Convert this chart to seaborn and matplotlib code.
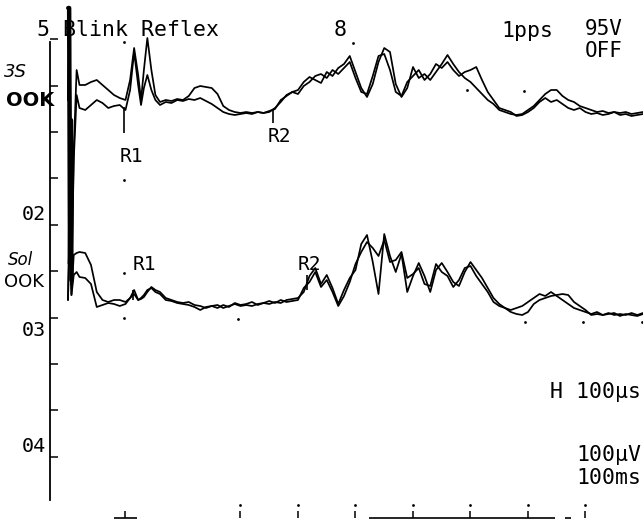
import numpy as np
import pandas as pd
import seaborn as sns
import matplotlib.pyplot as plt

# sweep time (ms) after the stimulus
t_ms = np.concatenate([[0, 0.3, 0.6, 1.0, 1.5], np.arange(2, 11),
                       [10.8, 11.5, 12.2, 12.7, 13.2, 13.8, 14.5, 15.2],
                       np.arange(16, 101)])

# channel 1 (upper), two superimposed sweeps, deflection in uV
upper_a = [0, 230, -462.5, -125, 75,
           37.5, 37.5, 45, 50, 37.5, 25, 12.5, 5, 0,
           50, 130, 62.5, 0, 75, 155, 75, 12.5,
           -5, 0, -2.5, 2.5, 0, 10, 30, 35, 32.5, 30,
           15, -15, -25, -30, -32.5, -30, -32.5, -30, -32.5, -27.5,
           -22.5, 0, 10, 20, 25, 45, 57.5, 50, 42.5, 70,
           60, 80, 90, 110, 70, 30, 7.5, 40, 95, 130,
           120, 40, 7.5, 30, 82.5, 55, 65, 50, 70, 90,
           112.5, 90, 70, 55, 45, 30, 15, 0, -10, -25,
           -30, -35, -37.5, -35, -25, -15, 0, 15, 25, 25,
           10, 0, -5, -15, -20, -25, -30, -27.5, -32.5, -30,
           -32.5, -30, -35, -32.5, -30]
upper_b = [0, 230, -462.5, -150, 12.5,
           -20, -25, -12.5, 0, -7.5, -20, -15, -12.5, -25,
           25, 120, 37.5, -12.5, 30, 62.5, 25, 0,
           -12.5, -5, -7.5, 0, -2.5, 2.5, 0, 5, -2.5, -10,
           -20, -30, -35, -37.5, -35, -32.5, -35, -30, -32.5, -30,
           -20, -5, 12.5, 20, 15, 35, 45, 60, 65, 55,
           75, 65, 80, 95, 55, 20, 15, 60, 110, 115,
           75, 20, 10, 45, 60, 75, 50, 65, 90, 80,
           95, 75, 60, 70, 75, 82.5, 50, 20, 0, -20,
           -25, -30, -40, -37.5, -30, -20, -5, 5, -5, 0,
           -10, -20, -25, -20, -30, -35, -32.5, -37.5, -35, -30,
           -37.5, -35, -40, -37.5, -35]

# channel 2 (lower)
lower_a = [0, 212.5, 12.5, 112.5, 117.5,
           120, 117.5, 87.5, 20, 0, -5, 0, 0, -5,
           5, 25, 0, 2.5, 7.5, 20, 32.5, 25,
           20, 5, 0, -5, -7.5, -5, -12.5, -15, -20, -15,
           -12.5, -20, -15, -10, -15, -12.5, -15, -10, -7.5, -10,
           -5, -7.5, 0, 2.5, 5, 20, 60, 80, 40, 62.5,
           30, -10, 25, 55, 75, 140, 162.5, 95, 15, 165,
           110, 70, 115, 20, 60, 92.5, 60, 20, 75, 92.5,
           70, 45, 35, 70, 95, 75, 55, 30, 5, -10,
           -20, -30, -35, -37.5, -30, -10, 0, 5, 10, 12.5,
           15, 12.5, -5, -15, -25, -37.5, -35, -37.5, -32.5, -37.5,
           -35, -37.5, -32.5, -37.5, -32.5]
lower_b = [0, 212.5, 12.5, 62.5, 70,
           57.5, 55, 40, -17.5, -12.5, -7.5, -10, -15, -10,
           5, 15, 0, 5, 12.5, 25, 30, 20,
           15, 0, -2.5, -7.5, -10, -12.5, -17.5, -25, -17.5, -15,
           -20, -12.5, -17.5, -7.5, -12.5, -10, -5, -12.5, -7.5, -2.5,
           -7.5, 0, -5, -2.5, 0, 30, 45, 70, 32.5, 50,
           20, -15, 10, 45, 90, 120, 145, 130, 110, 150,
           95, 100, 120, 55, 65, 80, 40, 35, 90, 70,
           60, 32.5, 50, 80, 85, 60, 40, 20, -5, -15,
           -20, -25, -20, -15, -5, 5, 15, 10, 20, 10,
           0, -10, -20, -25, -30, -35, -30, -37.5, -35, -32.5,
           -40, -35, -37.5, -40, -35]

for tr in (upper_a, upper_b, lower_a, lower_b):
    assert len(tr) == len(t_ms), len(tr)

upper_base = 1050
lower_base = 550

# stimulus artifact (thick, saturated)
artifact_t = [0.05, 0.2, 0.35, 0.5, 0.6]
artifact_v = [1280, 1280, 640, 1000, 600]

# cursor markers (ms, top uV, bottom uV)
markers = [(9.7, 1032.5, 967.5), (35.7, 1025, 992.5),
           (11.3, 575, 550), (41.6, 612.5, 575)]
marker_labels = [("R1", 9.0, 910), ("R2", 34.8, 960),
                 ("R1", 11.3, 640), ("R2", 40.0, 640)]

# grid dots
dot_t = [9.7, 9.7, 49.6, 69.4, 79.3, 9.7, 9.7, 29.6, 79.5, 89.6, 99.8,
         30, 40, 50, 60, 70, 80, 90]
dot_v = [1195, 850, 1192.5, 1075, 1072.5, 617.5, 505, 502.5, 495, 495, 495,
         37.5, 37.5, 37.5, 37.5, 37.5, 37.5, 37.5]

# bottom time marks (ms)
bottom_t = [10, 30, 40, 50, 60, 70, 80, 90]
bottom_bars = [(8, 12), (52.4, 84.7), (86.5, 87.5)]

# left axis ticks (uV)
ytick_v = [1202.5, 1085, 970, 855, 737.5, 622.5, 505, 390, 275, 157.5]

sns.set_theme(style="white")
plt.rcParams['font.family'] = ['DejaVu Sans Mono', 'DejaVu Sans']

W, H = 643, 520
fig = plt.figure(figsize=(W / 100, H / 100), dpi=100)
ax = fig.add_axes([50 / W, 0, 1 - 50 / W, 1])
ax.set_xlim(-3.13, 100)
ax.set_ylim(0, 1300)

rows = []
for name, base, tr in [("u_a", upper_base, upper_a), ("u_b", upper_base, upper_b),
                       ("l_a", lower_base, lower_a), ("l_b", lower_base, lower_b)]:
    for t, v in zip(t_ms, tr):
        rows.append({"trace": name, "t": t, "v": base + v})
df = pd.DataFrame(rows)

sns.lineplot(data=df, x="t", y="v", units="trace", estimator=None, sort=False,
             color="black", lw=1.25, ax=ax, legend=False)
sns.lineplot(x=artifact_t, y=artifact_v, sort=False, estimator=None,
             color="black", lw=3.2, ax=ax, legend=False)

for t, y0, y1 in markers:
    ax.vlines(t, y1, y0, color="black", lw=1.2)
for lab, t, v in marker_labels:
    ax.text(t, v, lab, fontsize=14, ha="left", va="center", color="black")

ax.scatter(dot_t, dot_v, s=4, color="black", zorder=3, linewidths=0)

ax.vlines(bottom_t, 5, 22, color="black", lw=1.1)
for a, b in bottom_bars:
    ax.hlines(5, a, b, color="black", lw=1.2)

ax.set_xlabel("")
ax.set_ylabel("")
ax.set_xticks([])
ax.set_yticks(ytick_v)
ax.set_yticklabels([])
ax.tick_params(axis="y", direction="in", length=6, width=1.1, color="black", left=True)
for s in ["top", "right", "bottom"]:
    ax.spines[s].set_visible(False)
ax.spines["left"].set_color("black")
ax.spines["left"].set_linewidth(1.3)
ax.spines["left"].set_bounds(50, 1195)


def ftext(x, y, s, **kw):
    fig.text(x / W, 1 - y / H, s, va="center", color="black", **kw)


ftext(37, 30, "5 Blink Reflex", fontsize=15.5)
ftext(334, 30, "8", fontsize=15.5)
ftext(501, 31, "1pps", fontsize=15.5)
ftext(585, 29, "95V", fontsize=15)
ftext(585, 51, "OFF", fontsize=15)
ftext(4, 72, "3S", fontsize=13, style="italic", family="DejaVu Sans")
ftext(6, 100, "OOK", fontsize=14, weight="bold", family="DejaVu Sans")
ftext(22, 214, "02", fontsize=14.5)
ftext(8, 260, "Sol", fontsize=12, style="italic", family="DejaVu Sans")
ftext(4, 282, "OOK", fontsize=13, family="DejaVu Sans")
ftext(22, 330, "03", fontsize=14.5)
ftext(22, 447, "04", fontsize=14.5)
ftext(641, 392, "H 100\u03bcs", fontsize=15.5, ha="right")
ftext(641, 455, "100\u03bcV", fontsize=15.5, ha="right")
ftext(641, 478, "100ms", fontsize=15.5, ha="right")

fig.savefig("out.png", dpi=100, facecolor="white")
